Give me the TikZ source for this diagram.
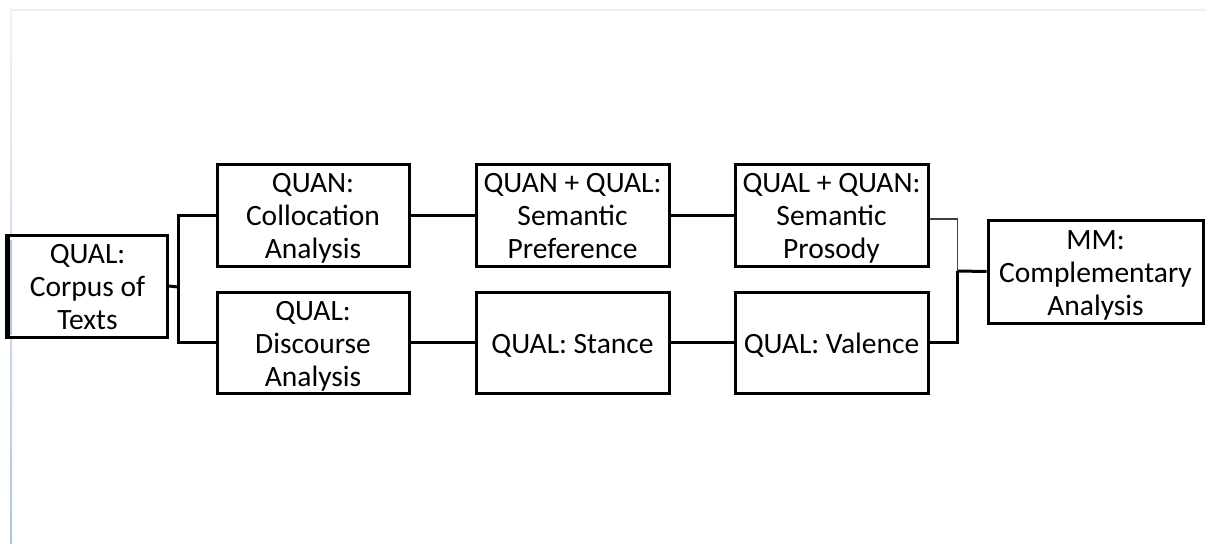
\documentclass[tikz,border=0pt]{standalone}
\usepackage{fontspec}
\setmainfont{Carlito}
\newcommand\sx{\rule[-6pt]{0pt}{33pt}}
\begin{document}
\begin{tikzpicture}[x=1pt,y=-1pt,
  box/.style={draw=black,line width=3pt,fill=white,align=center,inner sep=0pt,
    font=\fontsize{29.5}{33}\selectfont},
  conn/.style={draw=black,line width=3pt},
  thinconn/.style={draw=black!75,line width=1.4pt}]
\fill[white] (0,0) rectangle (1206,543);
\useasboundingbox (0,0) rectangle (1206,543);
% page edges
\draw[color={rgb,255:red,238;green,238;blue,245},line width=1.2pt] (10,10) -- (1206,10);
\shade[top color={rgb,255:red,240;green,242;blue,250},bottom color={rgb,255:red,178;green,198;blue,228}] (10,10) rectangle (12,543);
% boxes
\node[box,minimum width=159pt,minimum height=102pt] (src) at (87.5,286) {\sx QUAL:\\\sx Corpus of\\\sx Texts};
\node[box,minimum width=192pt,minimum height=102pt] (coll) at (313,215) {\sx QUAN:\\\sx Collocation\\\sx Analysis};
\node[box,minimum width=192pt,minimum height=101pt] (disc) at (313,342.5) {\sx QUAL:\\\sx Discourse\\\sx Analysis};
\node[box,minimum width=193pt,minimum height=102pt] (pref) at (572.5,215) {\sx QUAN + QUAL:\\\sx Semantic\\\sx Preference};
\node[box,minimum width=193pt,minimum height=101pt] (stance) at (572.5,342.5) {\sx QUAL: Stance};
\node[box,minimum width=193pt,minimum height=102pt] (pros) at (831.5,215) {\sx QUAL + QUAN:\\\sx Semantic\\\sx Prosody};
\node[box,minimum width=193pt,minimum height=101pt] (val) at (831.5,342.5) {\sx QUAL: Valence};
\node[box,minimum width=215pt,minimum height=103pt] (mm) at (1095.5,271.5) {\sx MM:\\\sx Complementary\\\sx Analysis};
\draw[line width=3.6pt] (src.north west) -- (src.south west);
\draw[color={rgb,255:red,178;green,198;blue,228},line width=1.6pt] (11,240) -- (11,335);
% junctions
\coordinate (jL) at (178,287);
\coordinate (jR) at (957.5,271);
\draw[conn] (src.east) -- (jL);
\draw[conn] (coll.west) -| (jL) |- (disc.west);
\draw[conn] (coll.east) -- (pref.west);
\draw[conn] (pref.east) -- (pros.west);
\draw[conn] (disc.east) -- (stance.west);
\draw[conn] (stance.east) -- (val.west);
\draw[thinconn] ([yshift=-4pt]pros.east) -| (jR);
\draw[conn] (val.east) -| (jR);
\draw[conn] (jR) -- (mm.west);
\end{tikzpicture}
\end{document}
